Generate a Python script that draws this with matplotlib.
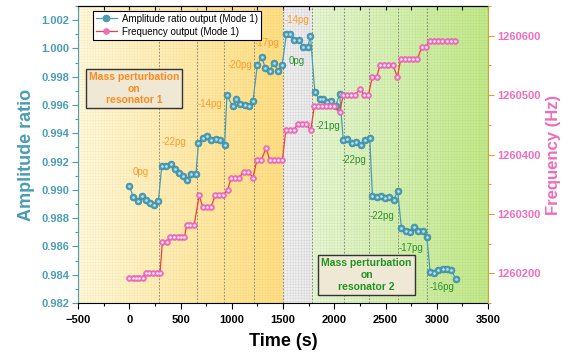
import numpy as np
import matplotlib.pyplot as plt
from matplotlib.colors import to_rgb
from matplotlib.ticker import MultipleLocator, FormatStrFormatter

plt.rcParams['font.family'] = ['Liberation Sans', 'DejaVu Sans']
plt.rcParams['font.weight'] = 'bold'
plt.rcParams['axes.labelweight'] = 'bold'
plt.rcParams['hatch.linewidth'] = 0.3

# amplitude ratio (mode 1)
amp_t = [0, 39, 82, 121, 163, 203, 245, 284,
         317, 362, 405, 447, 486, 528, 568, 607, 650,
         675, 718, 757, 799, 842, 887, 930,
         953, 1008, 1041, 1083, 1125, 1168, 1207,
         1249, 1292, 1328, 1370, 1409, 1452, 1491,
         1533, 1572, 1611, 1657, 1697, 1742, 1768,
         1810, 1856, 1892, 1931, 1970, 2013, 2052,
         2088, 2127, 2169, 2215, 2257, 2300, 2346,
         2372, 2414, 2453, 2495, 2538, 2580, 2619,
         2655, 2698, 2737, 2779, 2818, 2861, 2903,
         2935, 2975, 3017, 3060, 3099, 3141, 3187]
amp = [0.9903, 0.9895, 0.9892, 0.9896, 0.9893, 0.9891, 0.9889, 0.9892,
       0.9917, 0.9917, 0.9918, 0.9915, 0.9912, 0.9910, 0.9907, 0.9911, 0.9911,
       0.9933, 0.9937, 0.9938, 0.9935, 0.9936, 0.9935, 0.9932,
       0.9967, 0.9959, 0.9964, 0.9961, 0.9960, 0.9959, 0.9963,
       0.9988, 0.9994, 0.9986, 0.9984, 0.9990, 0.9984, 0.9988,
       1.0010, 1.0010, 1.0006, 1.0006, 1.0001, 1.0001, 1.0009,
       0.9969, 0.9964, 0.9964, 0.9962, 0.9963, 0.9959, 0.9968,
       0.9935, 0.9936, 0.9933, 0.9934, 0.9932, 0.9935, 0.9937,
       0.9896, 0.9895, 0.9896, 0.9894, 0.9895, 0.9893, 0.9899,
       0.9873, 0.9871, 0.9870, 0.9874, 0.9871, 0.9871, 0.9867,
       0.9842, 0.9841, 0.9843, 0.9844, 0.9844, 0.9843, 0.9837]

# frequency output (mode 1)
freq_t = [0, 33, 66, 99, 132,
          160, 196, 232, 268, 300,
          323, 364,
          398, 435, 472, 506, 538,
          560, 596, 633,
          682,
          718, 757, 796,
          838, 877, 913,
          960,
          995, 1034, 1073,
          1115, 1160,
          1207,
          1246, 1289,
          1335,
          1370, 1413, 1452, 1494,
          1528, 1567, 1605,
          1642, 1682, 1725,
          1770,
          1807, 1843, 1882, 1918, 1957, 1996,
          2052,
          2088, 2127, 2166, 2205,
          2252,
          2292, 2333,
          2372, 2416,
          2446, 2485, 2526, 2570,
          2616,
          2649, 2688, 2730, 2769, 2812,
          2854, 2893,
          2932, 2973, 3014, 3055, 3096, 3138, 3180]
freq = [1260192] * 5 + [1260201] * 5 + [1260252] * 2 + [1260261] * 5 + \
       [1260281] * 3 + [1260331] + [1260311] * 3 + [1260331] * 3 + \
       [1260341] + [1260361] * 3 + [1260371] * 2 + [1260361] + \
       [1260391] * 2 + [1260411] + [1260391] * 4 + [1260441] * 3 + \
       [1260451] * 3 + [1260441] + [1260482] * 6 + [1260471] + \
       [1260500] * 4 + [1260511] + [1260500] * 2 + [1260531] * 2 + \
       [1260551] * 4 + [1260531] + [1260561] * 5 + [1260581] * 2 + \
       [1260591] * 7

step_times = [293, 659, 920, 1213, 1497, 1778, 2094, 2339, 2622, 2903]

r1_labels = ['0pg', '-22pg', '-14pg', '-20pg', '-17pg', '-14pg']
r1_t = [111, 431, 783, 1083, 1344, 1638]
r1_y = [0.99125, 0.99341, 0.99608, 0.99884, 1.00038, 1.00203]
r2_labels = ['0pg', '-21pg', '-22pg', '-22pg', '-17pg', '-16pg']
r2_t = [1638, 1937, 2192, 2470, 2746, 3047]
r2_y = [0.99908, 0.99453, 0.99212, 0.98816, 0.98587, 0.98315]

teal = '#4A9DB6'
pink = '#F06CBC'
orange = '#FF9A2A'
green = '#2E922E'

fig = plt.figure(figsize=(5.75, 3.58), dpi=100)
ax = fig.add_axes([0.1357, 0.1536, 0.7130, 0.8296])
ylo, yhi = 0.982, 1.003


def shade(x0, x1, c0, c1, line_col):
    g = np.linspace(0, 1, 256)[None, :, None]
    img = (1 - g) * np.array(to_rgb(c0)) + g * np.array(to_rgb(c1))
    ax.imshow(img, extent=[x0, x1, ylo, yhi], aspect='auto', zorder=0,
              interpolation='bilinear')
    ax.axvspan(x0, x1, facecolor='none', edgecolor=line_col, hatch='++++++',
               lw=0, zorder=0.5)


shade(-500, 1497, '#FFF9DE', '#FFDF85', (0.85, 0.72, 0.25, 0.22))
shade(1497, 1778, '#F2F2F2', '#ECECEC', (0.6, 0.6, 0.6, 0.3))
shade(1778, 3500, '#EAF6D8', '#C3E98A', (0.45, 0.72, 0.25, 0.22))

for t in step_times:
    ax.axvline(t, color='#777777', ls=(0, (2, 2)), lw=0.6, zorder=1)

l1, = ax.plot(amp_t, amp, '-', color=teal, lw=0.9, marker='o', ms=5,
              mfc=teal, mec='#3A859C', mew=0.4, zorder=3)
ax.plot(amp_t, amp, ls='none', marker='o', ms=0.9, color='#BFE2EC', zorder=4)

ax2 = ax.twinx()
l2, = ax2.plot(freq_t, freq, '-', color='#F0403C', lw=0.9, marker='o', ms=4.3,
               mfc=pink, mec='#E058AC', mew=0.3, zorder=3)
ax2.plot(freq_t, freq, ls='none', marker='o', ms=0.9, color='#FFE6F4', zorder=4)

ax.set_xlim(-500, 3500)
ax.set_ylim(ylo, yhi)
ax2.set_ylim(1260150, 1260650)

ax.xaxis.set_major_locator(MultipleLocator(500))
ax.xaxis.set_minor_locator(MultipleLocator(250))
ax.yaxis.set_major_locator(MultipleLocator(0.002))
ax.yaxis.set_minor_locator(MultipleLocator(0.001))
ax.yaxis.set_major_formatter(FormatStrFormatter('%.3f'))
ax2.yaxis.set_major_locator(MultipleLocator(100))
ax2.yaxis.set_minor_locator(MultipleLocator(50))
ax2.yaxis.set_major_formatter(FormatStrFormatter('%d'))

ax.tick_params(axis='x', which='both', direction='out', labelsize=8, width=0.8,
               pad=4.5)
ax.tick_params(axis='x', which='major', length=4)
ax.tick_params(axis='x', which='minor', length=2.5)
ax.tick_params(axis='y', which='both', direction='out', color=teal,
               labelcolor=teal, labelsize=8, width=0.8, pad=2)
ax.tick_params(axis='y', which='major', length=4)
ax.tick_params(axis='y', which='minor', length=2.5)
ax2.tick_params(axis='y', which='both', direction='out', color='#D2A437',
                labelcolor=pink, labelsize=8, width=0.8, pad=2.5)
ax2.tick_params(axis='y', which='major', length=4)
ax2.tick_params(axis='y', which='minor', length=2.5)

top = ax.secondary_xaxis('top')
top.xaxis.set_major_locator(MultipleLocator(250))
top.tick_params(direction='in', length=3, width=0.8, labeltop=False)

ax.spines['left'].set_color(teal)
ax.spines['right'].set_visible(False)
for s in ['left', 'top', 'bottom']:
    ax2.spines[s].set_visible(False)
ax2.spines['right'].set_color('#D2A437')

ax.set_xlabel('Time (s)', fontsize=13, fontweight='bold', labelpad=6)
ax.set_ylabel('Amplitude ratio', fontsize=13, fontweight='bold', color=teal, labelpad=5)
ax2.set_ylabel('Frequency (Hz)', fontsize=12, fontweight='bold', color=pink, labelpad=4)

for s, t, y in zip(r1_labels, r1_t, r1_y):
    ax.text(t, y, s, color=orange, fontsize=7, fontweight='normal',
            ha='center', va='center', zorder=5)
for s, t, y in zip(r2_labels, r2_t, r2_y):
    ax.text(t, y, s, color=green, fontsize=7, fontweight='normal',
            ha='center', va='center', zorder=5)

box = dict(boxstyle='square,pad=0.3', fc='#EEE8D5', ec='#333333', lw=1.0)
ax.text(47, 0.99715, 'Mass perturbation\non\nresonator 1', color='#FF8A1C',
        fontsize=7.5, fontweight='bold', ha='center', va='center',
        multialignment='center', bbox=box, zorder=6)
ax.text(2316, 0.98398, 'Mass perturbation\non\nresonator 2', color='#1E961E',
        fontsize=7.5, fontweight='bold', ha='center', va='center',
        multialignment='center', bbox=box, zorder=6)

leg = ax2.legend([l1, l2], ['Amplitude ratio output (Mode 1)', 'Frequency output (Mode 1)'],
                 loc='upper left', bbox_to_anchor=(0.036, 0.984), borderaxespad=0,
                 prop={'size': 7, 'weight': 'normal'}, fancybox=False,
                 edgecolor='black', framealpha=1, handlelength=2.2,
                 borderpad=0.3, labelspacing=0.3, handletextpad=0.5)
leg.get_frame().set_linewidth(0.8)

fig.savefig('out.png', dpi=100)
